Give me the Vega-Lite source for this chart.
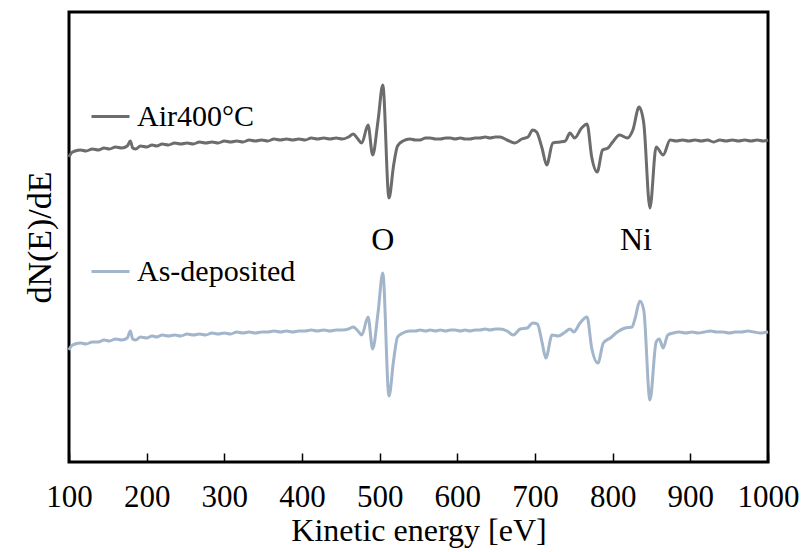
{
  "$schema": "https://vega.github.io/schema/vega-lite/v6.json",
  "width": 699,
  "height": 450,
  "autosize": "none",
  "padding": {"left": 69, "top": 12, "right": 37, "bottom": 90},
  "background": "white",
  "config": {
    "font": "Liberation Serif",
    "view": {"stroke": "black", "strokeWidth": 3},
    "axis": {"grid": false, "domain": false, "labelColor": "black", "titleColor": "black", "titleFontWeight": "normal", "labelFont": "Liberation Serif", "titleFont": "Liberation Serif"},
    "text": {"font": "Liberation Serif"},
    "legend": {"orient": "none", "legendX": 21, "legendY": 84, "padding": 0, "symbolType": "stroke", "symbolSize": 1444, "symbolStrokeWidth": 3, "labelFont": "Liberation Serif", "labelFontSize": 30, "labelColor": "black", "labelOffset": 6, "rowPadding": 119, "labelLimit": 400}
  },
  "datasets": {
    "spectra": [
      {"series": "Air400°C", "E": 100, "signal": 305}, {"series": "Air400°C", "E": 103, "signal": 309}, {"series": "Air400°C", "E": 108, "signal": 311}, {"series": "Air400°C", "E": 115, "signal": 312}, {"series": "Air400°C", "E": 122, "signal": 311}, {"series": "Air400°C", "E": 130, "signal": 313}, {"series": "Air400°C", "E": 138, "signal": 312}, {"series": "Air400°C", "E": 145, "signal": 314}, {"series": "Air400°C", "E": 152, "signal": 313}, {"series": "Air400°C", "E": 160, "signal": 315}, {"series": "Air400°C", "E": 168, "signal": 314}, {"series": "Air400°C", "E": 175, "signal": 316}, {"series": "Air400°C", "E": 179, "signal": 321}, {"series": "Air400°C", "E": 182, "signal": 314}, {"series": "Air400°C", "E": 186, "signal": 313}, {"series": "Air400°C", "E": 192, "signal": 316}, {"series": "Air400°C", "E": 200, "signal": 315}, {"series": "Air400°C", "E": 207, "signal": 317}, {"series": "Air400°C", "E": 213, "signal": 316}, {"series": "Air400°C", "E": 220, "signal": 318}, {"series": "Air400°C", "E": 228, "signal": 317}, {"series": "Air400°C", "E": 236, "signal": 319}, {"series": "Air400°C", "E": 244, "signal": 318}, {"series": "Air400°C", "E": 252, "signal": 319}, {"series": "Air400°C", "E": 260, "signal": 318}, {"series": "Air400°C", "E": 268, "signal": 320}, {"series": "Air400°C", "E": 276, "signal": 319}, {"series": "Air400°C", "E": 284, "signal": 320}, {"series": "Air400°C", "E": 292, "signal": 319}, {"series": "Air400°C", "E": 300, "signal": 321}, {"series": "Air400°C", "E": 308, "signal": 320}, {"series": "Air400°C", "E": 316, "signal": 321}, {"series": "Air400°C", "E": 324, "signal": 320}, {"series": "Air400°C", "E": 332, "signal": 322}, {"series": "Air400°C", "E": 340, "signal": 321}, {"series": "Air400°C", "E": 348, "signal": 322}, {"series": "Air400°C", "E": 356, "signal": 321}, {"series": "Air400°C", "E": 364, "signal": 323}, {"series": "Air400°C", "E": 372, "signal": 322}, {"series": "Air400°C", "E": 380, "signal": 323}, {"series": "Air400°C", "E": 388, "signal": 322}, {"series": "Air400°C", "E": 396, "signal": 323}, {"series": "Air400°C", "E": 404, "signal": 322}, {"series": "Air400°C", "E": 412, "signal": 324}, {"series": "Air400°C", "E": 420, "signal": 323}, {"series": "Air400°C", "E": 428, "signal": 324}, {"series": "Air400°C", "E": 436, "signal": 323}, {"series": "Air400°C", "E": 444, "signal": 324}, {"series": "Air400°C", "E": 452, "signal": 323}, {"series": "Air400°C", "E": 460, "signal": 325}, {"series": "Air400°C", "E": 466, "signal": 328}, {"series": "Air400°C", "E": 471, "signal": 324}, {"series": "Air400°C", "E": 477, "signal": 319}, {"series": "Air400°C", "E": 485, "signal": 337}, {"series": "Air400°C", "E": 491, "signal": 307}, {"series": "Air400°C", "E": 498, "signal": 342}, {"series": "Air400°C", "E": 504, "signal": 377}, {"series": "Air400°C", "E": 512, "signal": 264}, {"series": "Air400°C", "E": 518, "signal": 297}, {"series": "Air400°C", "E": 523, "signal": 316}, {"series": "Air400°C", "E": 530, "signal": 321}, {"series": "Air400°C", "E": 539, "signal": 323}, {"series": "Air400°C", "E": 546, "signal": 322}, {"series": "Air400°C", "E": 552, "signal": 322}, {"series": "Air400°C", "E": 559, "signal": 324}, {"series": "Air400°C", "E": 565, "signal": 324}, {"series": "Air400°C", "E": 572, "signal": 323}, {"series": "Air400°C", "E": 578, "signal": 323}, {"series": "Air400°C", "E": 585, "signal": 324}, {"series": "Air400°C", "E": 591, "signal": 324}, {"series": "Air400°C", "E": 597, "signal": 323}, {"series": "Air400°C", "E": 604, "signal": 324}, {"series": "Air400°C", "E": 610, "signal": 323}, {"series": "Air400°C", "E": 616, "signal": 323}, {"series": "Air400°C", "E": 623, "signal": 324}, {"series": "Air400°C", "E": 629, "signal": 324}, {"series": "Air400°C", "E": 636, "signal": 325}, {"series": "Air400°C", "E": 642, "signal": 324}, {"series": "Air400°C", "E": 649, "signal": 325}, {"series": "Air400°C", "E": 655, "signal": 325}, {"series": "Air400°C", "E": 664, "signal": 322}, {"series": "Air400°C", "E": 674, "signal": 319}, {"series": "Air400°C", "E": 683, "signal": 323}, {"series": "Air400°C", "E": 691, "signal": 325}, {"series": "Air400°C", "E": 697, "signal": 332}, {"series": "Air400°C", "E": 702, "signal": 330}, {"series": "Air400°C", "E": 709, "signal": 314}, {"series": "Air400°C", "E": 715, "signal": 297}, {"series": "Air400°C", "E": 723, "signal": 319}, {"series": "Air400°C", "E": 732, "signal": 320}, {"series": "Air400°C", "E": 739, "signal": 321}, {"series": "Air400°C", "E": 745, "signal": 329}, {"series": "Air400°C", "E": 751, "signal": 324}, {"series": "Air400°C", "E": 760, "signal": 334}, {"series": "Air400°C", "E": 767, "signal": 338}, {"series": "Air400°C", "E": 773, "signal": 305}, {"series": "Air400°C", "E": 780, "signal": 290}, {"series": "Air400°C", "E": 787, "signal": 312}, {"series": "Air400°C", "E": 794, "signal": 314}, {"series": "Air400°C", "E": 800, "signal": 320}, {"series": "Air400°C", "E": 809, "signal": 327}, {"series": "Air400°C", "E": 819, "signal": 324}, {"series": "Air400°C", "E": 826, "signal": 332}, {"series": "Air400°C", "E": 834, "signal": 355}, {"series": "Air400°C", "E": 840, "signal": 339}, {"series": "Air400°C", "E": 848, "signal": 254}, {"series": "Air400°C", "E": 856, "signal": 315}, {"series": "Air400°C", "E": 865, "signal": 307}, {"series": "Air400°C", "E": 874, "signal": 322}, {"series": "Air400°C", "E": 882, "signal": 321}, {"series": "Air400°C", "E": 890, "signal": 322}, {"series": "Air400°C", "E": 898, "signal": 321}, {"series": "Air400°C", "E": 906, "signal": 322}, {"series": "Air400°C", "E": 914, "signal": 321}, {"series": "Air400°C", "E": 922, "signal": 322}, {"series": "Air400°C", "E": 930, "signal": 320}, {"series": "Air400°C", "E": 938, "signal": 322}, {"series": "Air400°C", "E": 946, "signal": 321}, {"series": "Air400°C", "E": 954, "signal": 322}, {"series": "Air400°C", "E": 962, "signal": 321}, {"series": "Air400°C", "E": 970, "signal": 322}, {"series": "Air400°C", "E": 978, "signal": 321}, {"series": "Air400°C", "E": 986, "signal": 322}, {"series": "Air400°C", "E": 994, "signal": 321}, {"series": "Air400°C", "E": 1000, "signal": 322},
      {"series": "As-deposited", "E": 100, "signal": 112}, {"series": "As-deposited", "E": 103, "signal": 116}, {"series": "As-deposited", "E": 108, "signal": 118}, {"series": "As-deposited", "E": 115, "signal": 119}, {"series": "As-deposited", "E": 122, "signal": 118}, {"series": "As-deposited", "E": 130, "signal": 120}, {"series": "As-deposited", "E": 138, "signal": 120}, {"series": "As-deposited", "E": 145, "signal": 122}, {"series": "As-deposited", "E": 152, "signal": 121}, {"series": "As-deposited", "E": 160, "signal": 123}, {"series": "As-deposited", "E": 168, "signal": 122}, {"series": "As-deposited", "E": 175, "signal": 124}, {"series": "As-deposited", "E": 179, "signal": 131}, {"series": "As-deposited", "E": 182, "signal": 123}, {"series": "As-deposited", "E": 186, "signal": 122}, {"series": "As-deposited", "E": 192, "signal": 125}, {"series": "As-deposited", "E": 200, "signal": 124}, {"series": "As-deposited", "E": 207, "signal": 126}, {"series": "As-deposited", "E": 213, "signal": 125}, {"series": "As-deposited", "E": 220, "signal": 127}, {"series": "As-deposited", "E": 228, "signal": 126}, {"series": "As-deposited", "E": 236, "signal": 127}, {"series": "As-deposited", "E": 244, "signal": 126}, {"series": "As-deposited", "E": 252, "signal": 128}, {"series": "As-deposited", "E": 260, "signal": 127}, {"series": "As-deposited", "E": 268, "signal": 128}, {"series": "As-deposited", "E": 276, "signal": 127}, {"series": "As-deposited", "E": 284, "signal": 129}, {"series": "As-deposited", "E": 292, "signal": 128}, {"series": "As-deposited", "E": 300, "signal": 129}, {"series": "As-deposited", "E": 308, "signal": 128}, {"series": "As-deposited", "E": 316, "signal": 130}, {"series": "As-deposited", "E": 324, "signal": 129}, {"series": "As-deposited", "E": 332, "signal": 130}, {"series": "As-deposited", "E": 340, "signal": 129}, {"series": "As-deposited", "E": 348, "signal": 130}, {"series": "As-deposited", "E": 356, "signal": 130}, {"series": "As-deposited", "E": 364, "signal": 131}, {"series": "As-deposited", "E": 372, "signal": 130}, {"series": "As-deposited", "E": 380, "signal": 131}, {"series": "As-deposited", "E": 388, "signal": 130}, {"series": "As-deposited", "E": 396, "signal": 131}, {"series": "As-deposited", "E": 404, "signal": 131}, {"series": "As-deposited", "E": 412, "signal": 132}, {"series": "As-deposited", "E": 420, "signal": 131}, {"series": "As-deposited", "E": 428, "signal": 132}, {"series": "As-deposited", "E": 436, "signal": 131}, {"series": "As-deposited", "E": 444, "signal": 132}, {"series": "As-deposited", "E": 452, "signal": 132}, {"series": "As-deposited", "E": 460, "signal": 133}, {"series": "As-deposited", "E": 466, "signal": 135}, {"series": "As-deposited", "E": 471, "signal": 132}, {"series": "As-deposited", "E": 477, "signal": 127}, {"series": "As-deposited", "E": 485, "signal": 145}, {"series": "As-deposited", "E": 491, "signal": 113}, {"series": "As-deposited", "E": 498, "signal": 150}, {"series": "As-deposited", "E": 504, "signal": 189}, {"series": "As-deposited", "E": 512, "signal": 66}, {"series": "As-deposited", "E": 518, "signal": 102}, {"series": "As-deposited", "E": 523, "signal": 125}, {"series": "As-deposited", "E": 530, "signal": 129}, {"series": "As-deposited", "E": 539, "signal": 131}, {"series": "As-deposited", "E": 546, "signal": 131}, {"series": "As-deposited", "E": 552, "signal": 132}, {"series": "As-deposited", "E": 559, "signal": 131}, {"series": "As-deposited", "E": 565, "signal": 132}, {"series": "As-deposited", "E": 572, "signal": 131}, {"series": "As-deposited", "E": 578, "signal": 132}, {"series": "As-deposited", "E": 585, "signal": 131}, {"series": "As-deposited", "E": 591, "signal": 132}, {"series": "As-deposited", "E": 597, "signal": 132}, {"series": "As-deposited", "E": 604, "signal": 131}, {"series": "As-deposited", "E": 610, "signal": 132}, {"series": "As-deposited", "E": 616, "signal": 131}, {"series": "As-deposited", "E": 623, "signal": 132}, {"series": "As-deposited", "E": 629, "signal": 132}, {"series": "As-deposited", "E": 636, "signal": 133}, {"series": "As-deposited", "E": 642, "signal": 132}, {"series": "As-deposited", "E": 649, "signal": 133}, {"series": "As-deposited", "E": 655, "signal": 133}, {"series": "As-deposited", "E": 664, "signal": 131}, {"series": "As-deposited", "E": 672, "signal": 127}, {"series": "As-deposited", "E": 681, "signal": 133}, {"series": "As-deposited", "E": 690, "signal": 134}, {"series": "As-deposited", "E": 697, "signal": 139}, {"series": "As-deposited", "E": 703, "signal": 138}, {"series": "As-deposited", "E": 709, "signal": 120}, {"series": "As-deposited", "E": 714, "signal": 104}, {"series": "As-deposited", "E": 722, "signal": 127}, {"series": "As-deposited", "E": 730, "signal": 126}, {"series": "As-deposited", "E": 739, "signal": 130}, {"series": "As-deposited", "E": 745, "signal": 133}, {"series": "As-deposited", "E": 750, "signal": 130}, {"series": "As-deposited", "E": 758, "signal": 139}, {"series": "As-deposited", "E": 767, "signal": 145}, {"series": "As-deposited", "E": 773, "signal": 114}, {"series": "As-deposited", "E": 781, "signal": 99}, {"series": "As-deposited", "E": 788, "signal": 119}, {"series": "As-deposited", "E": 797, "signal": 124}, {"series": "As-deposited", "E": 806, "signal": 130}, {"series": "As-deposited", "E": 816, "signal": 134}, {"series": "As-deposited", "E": 825, "signal": 135}, {"series": "As-deposited", "E": 829, "signal": 144}, {"series": "As-deposited", "E": 835, "signal": 161}, {"series": "As-deposited", "E": 840, "signal": 152}, {"series": "As-deposited", "E": 848, "signal": 62}, {"series": "As-deposited", "E": 856, "signal": 120}, {"series": "As-deposited", "E": 860, "signal": 123}, {"series": "As-deposited", "E": 865, "signal": 114}, {"series": "As-deposited", "E": 871, "signal": 127}, {"series": "As-deposited", "E": 878, "signal": 129}, {"series": "As-deposited", "E": 886, "signal": 130}, {"series": "As-deposited", "E": 894, "signal": 129}, {"series": "As-deposited", "E": 902, "signal": 130}, {"series": "As-deposited", "E": 910, "signal": 129}, {"series": "As-deposited", "E": 918, "signal": 130}, {"series": "As-deposited", "E": 926, "signal": 131}, {"series": "As-deposited", "E": 934, "signal": 130}, {"series": "As-deposited", "E": 942, "signal": 130}, {"series": "As-deposited", "E": 950, "signal": 129}, {"series": "As-deposited", "E": 958, "signal": 130}, {"series": "As-deposited", "E": 966, "signal": 130}, {"series": "As-deposited", "E": 974, "signal": 131}, {"series": "As-deposited", "E": 982, "signal": 130}, {"series": "As-deposited", "E": 990, "signal": 129}, {"series": "As-deposited", "E": 1000, "signal": 130}
    ],
    "peaks": [
      {"element": "O", "E": 504, "signal": 222},
      {"element": "Ni", "E": 830, "signal": 222}
    ]
  },
  "layer": [
    {
      "data": {"name": "spectra"},
      "mark": {"type": "line", "strokeWidth": 3, "interpolate": "monotone"},
      "encoding": {
        "x": {"field": "E", "type": "quantitative", "scale": {"domain": [100, 1000], "nice": false},
              "axis": {"values": [100, 200, 300, 400, 500, 600, 700, 800, 900, 1000], "format": "d", "title": "Kinetic energy [eV]", "titleFont": "Liberation Serif", "labelFont": "Liberation Serif", "titleFontSize": 32, "labelFontSize": 31, "tickSize": -9, "tickColor": "black", "tickWidth": 1.5, "labelPadding": 29, "titlePadding": 3, "labelFlush": false}},
        "y": {"field": "signal", "type": "quantitative", "scale": {"domain": [0, 450], "nice": false},
              "axis": {"title": "dN(E)/dE", "titleFont": "Liberation Serif", "titleFontSize": 34, "labels": false, "ticks": false, "titlePadding": 12}},
        "color": {"field": "series", "type": "nominal", "scale": {"domain": ["Air400°C", "As-deposited"], "range": ["#6c6c6c", "#a2b5ca"]}, "legend": {"title": null}}
      }
    },
    {
      "data": {"name": "peaks"},
      "mark": {"type": "text", "fontSize": 32, "fill": "black", "font": "Liberation Serif"},
      "encoding": {"x": {"field": "E", "type": "quantitative"}, "y": {"field": "signal", "type": "quantitative"}, "text": {"field": "element"}}
    }
  ]
}
